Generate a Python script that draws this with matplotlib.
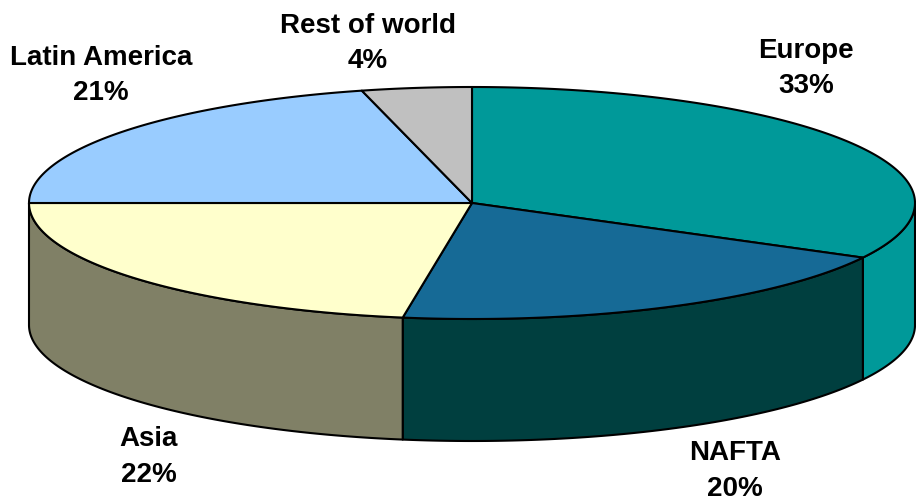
import numpy as np
import matplotlib
matplotlib.use("Agg")
from matplotlib import pyplot as plt
from matplotlib.patches import Polygon

regions = ["Europe", "NAFTA", "Asia", "Latin America", "Rest of world"]
shares = [32.8, 19.7, 22.5, 21, 4]
pct_labels = ["33%", "20%", "22%", "21%", "4%"]
top_colors = ["#009999", "#166A96", "#FFFFCC", "#99CCFF", "#C0C0C0"]
side_colors = ["#009999", "#003F3F", "#808066", "#99CCFF", "#C0C0C0"]

# layout (pixels)
W, H = 916, 503
cx, cy, rx, ry, depth = 472, 203, 443, 116, 122
label_pos = [(806, 68), (735, 471), (149, 457), (101, 75), (368, 43)]

fig = plt.figure(figsize=(W / 100, H / 100), dpi=100)
ax = fig.add_axes([0, 0, 1, 1])
ax.set_xlim(0, W)
ax.set_ylim(H, 0)
ax.axis("off")


def rim(a0, a1, n=200):
    # angles in degrees, clockwise from 12 o'clock
    t = np.radians(np.linspace(a0, a1, n))
    return cx + rx * np.sin(t), cy - ry * np.cos(t)


bounds = np.concatenate([[0], np.cumsum(shares)]) / sum(shares) * 360

# side walls (front half only, 90..270 deg)
for i in range(len(shares)):
    a0, a1 = max(bounds[i], 90), min(bounds[i + 1], 270)
    if a1 <= a0:
        continue
    x, y = rim(a0, a1)
    px = np.concatenate([x, x[::-1]])
    py = np.concatenate([y, y[::-1] + depth])
    ax.add_patch(Polygon(np.column_stack([px, py]), closed=True,
                         facecolor=side_colors[i], edgecolor="black",
                         linewidth=1.5, joinstyle="round"))

# top faces
for i in range(len(shares)):
    x, y = rim(bounds[i], bounds[i + 1])
    px = np.concatenate([[cx], x])
    py = np.concatenate([[cy], y])
    ax.add_patch(Polygon(np.column_stack([px, py]), closed=True,
                         facecolor=top_colors[i], edgecolor="black",
                         linewidth=1.5, joinstyle="round"))

for name, pct, (lx, ly) in zip(regions, pct_labels, label_pos):
    ax.text(lx, ly, f"{name}\n{pct}", ha="center", va="center",
            fontsize=20, fontweight="bold", family="Liberation Sans",
            linespacing=1.45)

fig.savefig("out.png", dpi=100)
